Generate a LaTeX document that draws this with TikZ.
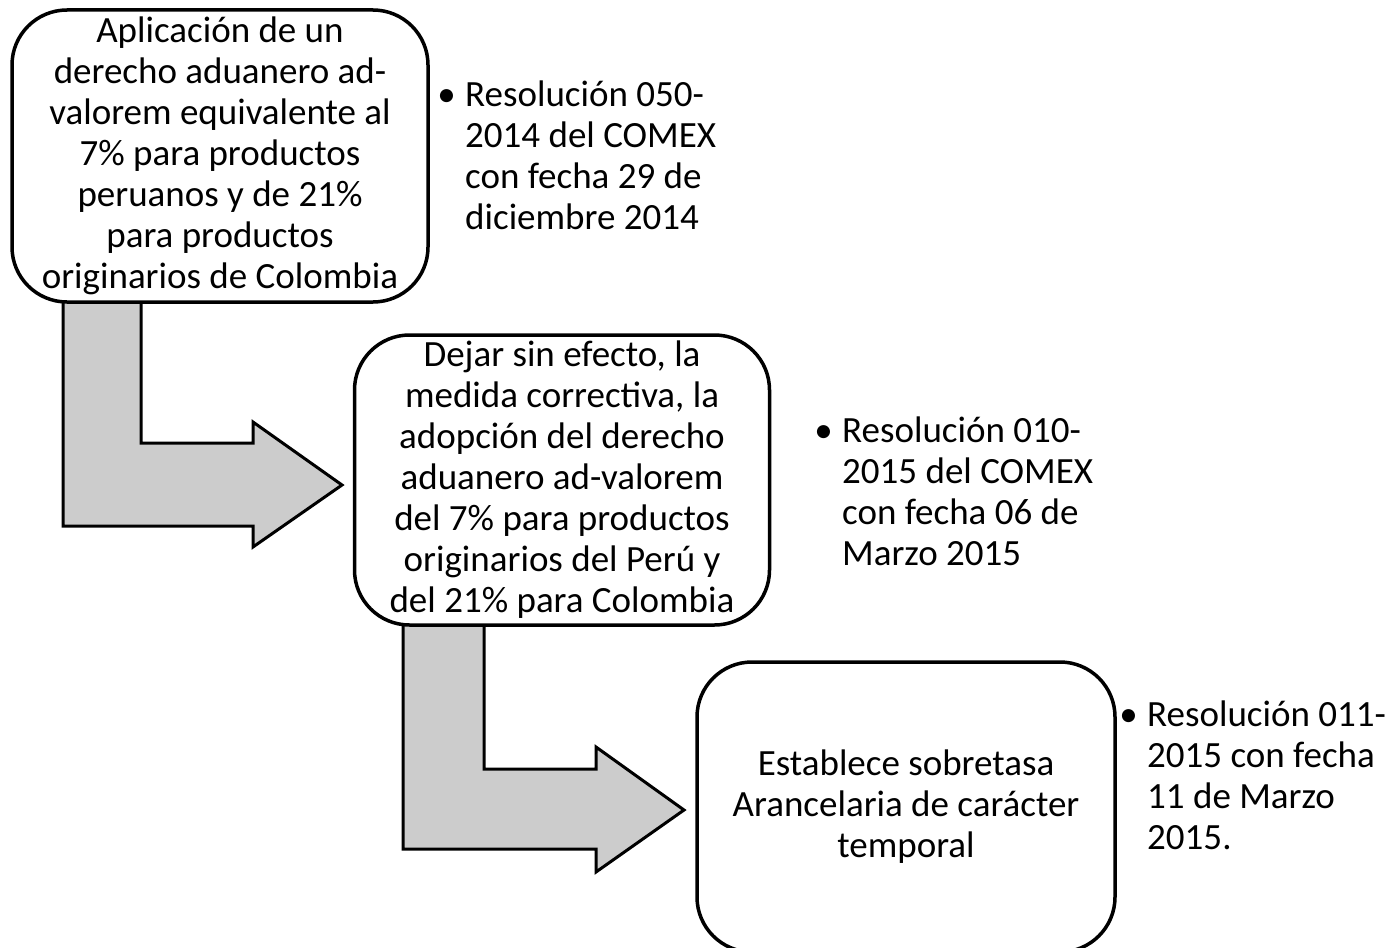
\documentclass[tikz,border=0pt]{standalone}
\usepackage{fontspec}
\setmainfont{Carlito}
\usetikzlibrary{positioning}

\definecolor{arrowgray}{RGB}{204,204,204}

\tikzset{
	stepbox/.style={draw, line width=3.5pt, rounded corners=55pt, fill=white, align=center, inner sep=0pt},
	blockarrow/.style={draw, line width=3pt, fill=arrowgray, line join=miter},
	listtext/.style={anchor=north west, align=left, inner sep=0pt},
	bulletmark/.style={inner sep=0pt}
}

\begin{document}
\begin{tikzpicture}[x=1pt, y=-1pt, font=\fontsize{37}{41}\selectfont]
	\useasboundingbox (0,0) rectangle (1391,947);
	% bent arrows (behind the boxes)
	\draw[blockarrow] (63,300) -- (63,526) -- (253,526) -- (253,547) -- (342,485) -- (253,422) -- (253,443) -- (141,443) -- (141,300);
	\draw[blockarrow] (403,622) -- (403,849) -- (596,849) -- (596,872) -- (684,810) -- (596,747) -- (596,769) -- (484,769) -- (484,622);
	% boxes
	\node[stepbox, minimum width=416, minimum height=292] (b1) at (220,156) {Aplicación de un\\derecho aduanero ad-\\valorem equivalente al\\7\% para productos\\peruanos y de 21\%\\para productos\\originarios de Colombia};
	\node[stepbox, minimum width=415, minimum height=290] (b2) at (562,480) {Dejar sin efecto, la\\medida correctiva, la\\adopción del derecho\\aduanero ad-valorem\\del 7\% para productos\\originarios del Perú y\\del 21\% para Colombia};
	\node[stepbox, minimum width=418, minimum height=290] (b3) at (906,807) {Establece sobretasa\\Arancelaria de carácter\\temporal};
	% resoluciones
	\node[listtext] (r1) at (465,78) {\strut Resolución 050-\\2014 del COMEX\\con fecha 29 de\\diciembre 2014};
	\node[bulletmark, left=9pt of r1.north west, anchor=north east] (r1dot) {\strut•};
	\node[listtext] (r2) at (842,414) {\strut Resolución 010-\\2015 del COMEX\\con fecha 06 de\\Marzo 2015};
	\node[bulletmark, left=9pt of r2.north west, anchor=north east] (r2dot) {\strut•};
	\node[listtext] (r3) at (1147,698) {\strut Resolución 011-\\2015 con fecha\\11 de Marzo\\2015.};
	\node[bulletmark, left=9pt of r3.north west, anchor=north east] (r3dot) {\strut•};
\end{tikzpicture}
\end{document}
